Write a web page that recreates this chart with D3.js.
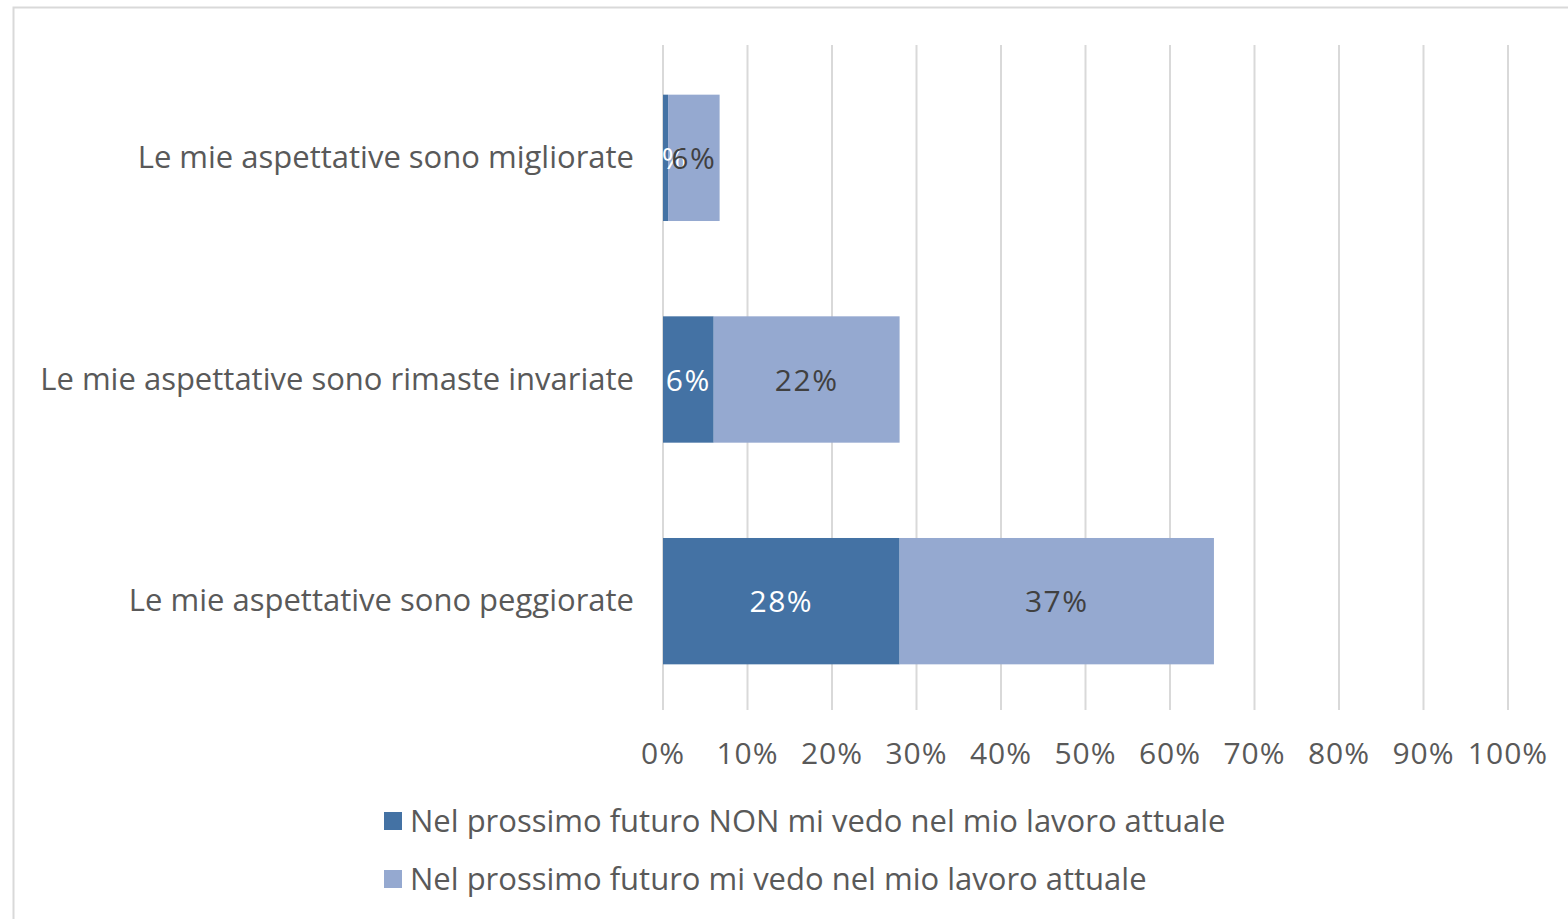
<!DOCTYPE html>
<head>
    <meta charset='utf-8'>
    <title>Aspettative</title>
    <script src='https://d3js.org/d3.v7.min.js'></script>
    <style>
        html, body {
            margin: 0px;
            padding: 0px;
            background: white;
        }
        svg text {
            font-family: 'Open Sans', sans-serif;
            fill: #595959;
        }
    </style>
</head>
<body>
    <svg id='chart' width='1568' height='919'></svg>

    <script>
        // data
        var categories = ['Le mie aspettative sono migliorate',
                          'Le mie aspettative sono rimaste invariate',
                          'Le mie aspettative sono peggiorate'];
        var nonVedo = [0.6, 6, 28];
        var siVedo = [6.1, 22, 37.2];
        var nonVedoLabels = ['1%', '6%', '28%'];
        var siVedoLabels = ['6%', '22%', '37%'];
        var ticks = [0, 10, 20, 30, 40, 50, 60, 70, 80, 90, 100];
        var seriesNames = ['Nel prossimo futuro NON mi vedo nel mio lavoro attuale',
                           'Nel prossimo futuro mi vedo nel mio lavoro attuale'];
        var colors = ['#4472a4', '#95a9d0'];

        var svg = d3.select('#chart');

        // outer frame
        svg.append('rect')
            .attr('x', 13.5).attr('y', 7.5)
            .attr('width', 1600).attr('height', 1000)
            .attr('fill', 'white')
            .attr('stroke', '#d9d9d9')
            .attr('stroke-width', 2);

        var x = d3.scaleLinear().domain([0, 100]).range([663, 1508]);
        var y = d3.scaleBand().domain(categories).range([47, 712]).paddingInner(0.43).paddingOuter(0.215);

        // gridlines
        svg.append('g').selectAll('line')
            .data(ticks)
            .enter()
            .append('line')
            .attr('x1', d => x(d)).attr('x2', d => x(d))
            .attr('y1', 45).attr('y2', 710)
            .attr('stroke', '#d9d9d9')
            .attr('stroke-width', 2);

        // tick labels
        svg.append('g').selectAll('text')
            .data(ticks)
            .enter()
            .append('text')
            .attr('x', d => x(d))
            .attr('y', 764)
            .attr('text-anchor', 'middle')
            .style('font-size', '30px')
            .style('letter-spacing', '1px')
            .text(d => d + '%');

        // category labels
        svg.append('g').selectAll('text')
            .data(categories)
            .enter()
            .append('text')
            .attr('x', 634)
            .attr('y', d => y(d) + y.bandwidth() / 2 + 10)
            .attr('text-anchor', 'end')
            .style('font-size', '31px')
            .text(d => d);

        var rows = categories.map(function(c, i) {
            return {cat: c, a: nonVedo[i], b: siVedo[i], la: nonVedoLabels[i], lb: siVedoLabels[i]};
        });

        var bars = svg.append('g');
        bars.selectAll('.a')
            .data(rows)
            .enter()
            .append('rect')
            .attr('x', x(0))
            .attr('y', d => y(d.cat))
            .attr('width', d => x(d.a) - x(0))
            .attr('height', y.bandwidth())
            .attr('fill', colors[0]);

        bars.selectAll('.b')
            .data(rows)
            .enter()
            .append('rect')
            .attr('x', d => x(d.a))
            .attr('y', d => y(d.cat))
            .attr('width', d => x(d.a + d.b) - x(d.a))
            .attr('height', y.bandwidth())
            .attr('fill', colors[1]);

        bars.selectAll('.la')
            .data(rows)
            .enter()
            .append('text')
            .attr('x', d => x(d.a / 2))
            .attr('y', d => y(d.cat) + y.bandwidth() / 2 + 11)
            .attr('text-anchor', 'middle')
            .style('font-size', '30px')
            .style('letter-spacing', '1.5px')
            .style('fill', 'white')
            .text(d => d.la);

        bars.selectAll('.lb')
            .data(rows)
            .enter()
            .append('text')
            .attr('x', d => x(d.a + d.b / 2))
            .attr('y', d => y(d.cat) + y.bandwidth() / 2 + 11)
            .attr('text-anchor', 'middle')
            .style('font-size', '30px')
            .style('letter-spacing', '1.5px')
            .style('fill', '#404040')
            .text(d => d.lb);

        // legend
        var legend = svg.append('g').selectAll('g')
            .data(seriesNames)
            .enter()
            .append('g')
            .attr('transform', (d, i) => 'translate(384,' + (812 + i * 58) + ')');

        legend.append('rect')
            .attr('width', 18).attr('height', 18)
            .attr('fill', (d, i) => colors[i]);

        legend.append('text')
            .attr('x', 26)
            .attr('y', 20)
            .style('font-size', '31px')
            .text(d => d);
    </script>
</body>
